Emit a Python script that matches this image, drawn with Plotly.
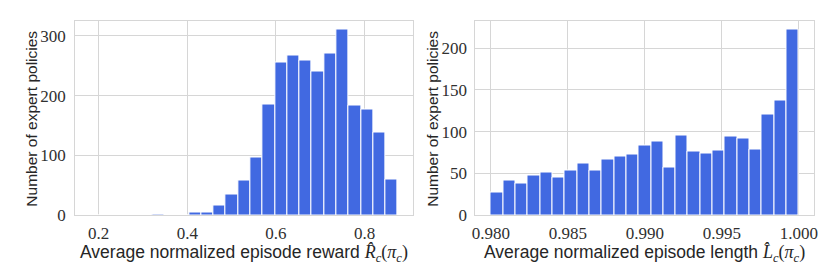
import numpy as np
import plotly.graph_objects as go

# ---------------- data ----------------
# Left histogram: average normalized episode reward (25 bins)
reward_bin_range = (0.182, 0.875)
reward_counts = [0, 0, 0, 0, 0, 1, 0, 0,
                 4, 4, 16, 35, 58, 96, 185, 255, 267, 258, 240, 271, 310,
                 184, 177, 139, 59]

# Right histogram: average normalized episode length (25 bins)
length_bin_range = (0.980, 1.000)
length_counts = [27, 42, 38, 48, 51, 45, 53, 62, 53, 67, 70, 73, 83, 88,
                 57, 95, 76, 74, 77, 94, 92, 79, 120, 137, 222]

reward_xticks = [0.2, 0.4, 0.6, 0.8]
reward_xtick_labels = ["0.2", "0.4", "0.6", "0.8"]
reward_yticks = [0, 100, 200, 300]
length_xticks = [0.980, 0.985, 0.990, 0.995, 1.000]
length_xtick_labels = ["0.980", "0.985", "0.990", "0.995", "1.000"]
length_yticks = [0, 50, 100, 150, 200]

y_title = "Number of expert policies"
MATH = "<span style='font-family:Liberation Serif;font-size:18px'>"
reward_title = ("Average normalized episode reward " + MATH +
                "<i>R&#770;</i><sub><i>c</i></sub>(<i>π</i><sub><i>c</i></sub>)</span>")
length_title = ("Average normalized episode length " + MATH +
                "<i>L&#770;</i><sub><i>c</i></sub>(<i>π</i><sub><i>c</i></sub>)</span>")

# ---------------- figure ----------------
W, H = 830, 277
BAR = "#4169E1"
GRID = "#d6d6d6"
TICKFONT = dict(family="Liberation Serif", size=17, color="#303030")
XTITLEFONT = dict(family="Liberation Sans", size=17.5, color="#262626")
YTITLEFONT = dict(family="Liberation Sans", size=15.5, color="#262626")


def hist_bars(counts, rng):
    edges = np.linspace(rng[0], rng[1], len(counts) + 1)
    centers = (edges[:-1] + edges[1:]) / 2
    width = edges[1] - edges[0]
    return centers, width


fig = go.Figure()

cx, w = hist_bars(reward_counts, reward_bin_range)
fig.add_trace(go.Bar(x=cx, y=reward_counts, width=w, marker=dict(color=BAR, line=dict(color="white", width=1)),
                     xaxis="x", yaxis="y", showlegend=False))
cx2, w2 = hist_bars(length_counts, length_bin_range)
fig.add_trace(go.Bar(x=cx2, y=length_counts, width=w2, marker=dict(color=BAR, line=dict(color="white", width=1)),
                     xaxis="x2", yaxis="y2", showlegend=False))


def px_x(p):
    return p / W


def px_y(p):
    return 1 - p / H


def margin_range(lo, hi, frac=0.05):
    d = (hi - lo) * frac
    return [lo - d, hi + d]


axis_common = dict(showgrid=True, gridcolor=GRID, gridwidth=1, showline=True, linecolor=GRID, linewidth=1.3,
                   mirror=True, ticks="", zeroline=False, tickfont=TICKFONT)

fig.update_layout(
    width=W, height=H,
    margin=dict(l=0, r=0, t=0, b=0),
    paper_bgcolor="white", plot_bgcolor="white",
    bargap=0,
    xaxis=dict(domain=[px_x(64), px_x(405)], range=margin_range(*reward_bin_range), tickvals=reward_xticks,
               ticktext=reward_xtick_labels, anchor="y", ticklabelstandoff=2, **axis_common),
    yaxis=dict(domain=[px_y(215), px_y(13)], range=[0, max(reward_counts) * 1.05], tickvals=reward_yticks,
               anchor="x", ticklabelstandoff=5, **axis_common),
    xaxis2=dict(domain=[px_x(468), px_x(810)], range=margin_range(*length_bin_range), tickvals=length_xticks,
                ticktext=length_xtick_labels, anchor="y2", ticklabelstandoff=2, **axis_common),
    yaxis2=dict(domain=[px_y(215), px_y(13)], range=[0, max(length_counts) * 1.05], tickvals=length_yticks,
                anchor="x2", ticklabelstandoff=4, **axis_common),
    annotations=[
        dict(text=reward_title, x=px_x(234.5), y=px_y(255), xref="paper", yref="paper", showarrow=False,
             font=XTITLEFONT, xanchor="center", yanchor="middle"),
        dict(text=length_title, x=px_x(639), y=px_y(255), xref="paper", yref="paper", showarrow=False,
             font=XTITLEFONT, xanchor="center", yanchor="middle"),
        dict(text=y_title, x=px_x(20), y=px_y(115), xref="paper", yref="paper", showarrow=False,
             font=YTITLEFONT, textangle=-90, xanchor="center", yanchor="middle"),
        dict(text=y_title, x=px_x(425), y=px_y(115), xref="paper", yref="paper", showarrow=False,
             font=YTITLEFONT, textangle=-90, xanchor="center", yanchor="middle"),
    ],
)

fig.write_html("out.html")
